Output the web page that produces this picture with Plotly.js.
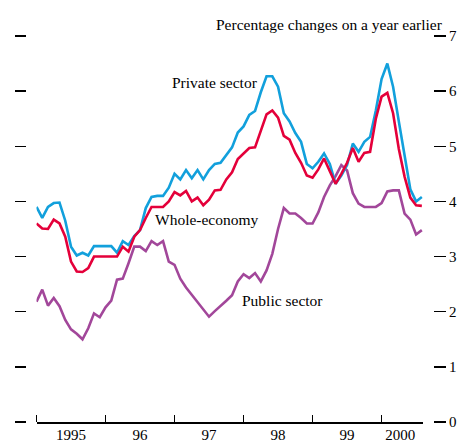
<!DOCTYPE html>
<html>
<head>
<meta charset="utf-8">
<script src="https://cdn.plot.ly/plotly-3.0.1.min.js"></script>
<style>html,body{margin:0;padding:0;background:#fff;}#chart{width:459px;height:442px;}</style>
</head>
<body>
<div id="chart"></div>
<script>
// Monthly data, January 1995 onwards (percentage changes on a year earlier)
var startYear = 1995;
var privateSector = [3.90,3.70,3.90,3.97,3.98,3.65,3.18,3.02,3.07,3.02,
  3.19,3.19,3.19,3.19,3.07,3.28,3.21,3.37,3.48,3.88,
  4.08,4.10,4.10,4.25,4.50,4.40,4.57,4.42,4.57,4.40,
  4.57,4.68,4.70,4.85,4.98,5.25,5.36,5.57,5.64,5.98,
  6.27,6.27,6.08,5.60,5.45,5.24,5.08,4.68,4.60,4.72,
  4.87,4.68,4.32,4.47,4.66,5.05,4.90,5.08,5.17,5.65,
  6.22,6.50,6.08,5.45,4.80,4.22,4.00,4.08];
var wholeEconomy = [3.60,3.51,3.50,3.67,3.60,3.36,2.91,2.73,2.72,2.79,
  3.00,3.00,3.00,3.00,3.00,3.18,3.09,3.36,3.48,3.70,
  3.90,3.90,3.90,4.00,4.17,4.11,4.19,4.00,4.07,3.93,
  4.03,4.20,4.21,4.40,4.53,4.77,4.87,4.97,4.98,5.30,
  5.58,5.65,5.52,5.19,5.12,4.88,4.70,4.47,4.43,4.58,
  4.78,4.55,4.32,4.50,4.70,4.97,4.72,4.88,4.90,5.50,
  5.90,5.97,5.60,4.95,4.45,4.07,3.93,3.92];
var publicSector = [2.18,2.40,2.11,2.25,2.10,1.85,1.68,1.60,1.50,1.70,
  1.97,1.90,2.08,2.20,2.58,2.60,2.88,3.18,3.18,3.10,
  3.28,3.21,3.28,2.91,2.85,2.60,2.44,2.31,2.19,2.06,
  1.91,2.01,2.10,2.20,2.30,2.55,2.68,2.61,2.70,2.55,
  2.75,3.05,3.50,3.88,3.78,3.78,3.70,3.60,3.60,3.80,
  4.08,4.29,4.46,4.66,4.56,4.15,3.96,3.90,3.90,3.90,
  3.97,4.18,4.20,4.20,3.78,3.67,3.40,3.48];
var yearTicks = [1995,1996,1997,1998,1999,2000];
var yearLabels = ['1995','96','97','98','99','2000'];
var yTicks = [0,1,2,3,4,5,6,7];

var months = privateSector.map(function(_, i){ return startYear + i/12; });
var labelPos = yearTicks.map(function(y, i){ return i < yearTicks.length-1 ? y + 0.5 : y + 0.27; });

var FONT = 'Liberation Serif, Times New Roman, serif';
var colBlue = '#12A0DC', colRed = '#E4003A', colPurple = '#A2479A';

var traces = [
  {x: months, y: publicSector, mode:'lines', line:{color:colPurple, width:2.6}, hoverinfo:'skip'},
  {x: months, y: privateSector, mode:'lines', line:{color:colBlue, width:2.6}, hoverinfo:'skip'},
  {x: months, y: wholeEconomy, mode:'lines', line:{color:colRed, width:2.6}, hoverinfo:'skip'},
  {x: [startYear], y: [0], yaxis:'y2', mode:'markers', marker:{opacity:0}, hoverinfo:'skip'}
];

var layout = {
  width: 459, height: 442,
  margin: {l: 26, r: 26, t: 36, b: 20, pad: 0},
  paper_bgcolor: '#fff', plot_bgcolor: '#fff',
  showlegend: false,
  font: {family: FONT, size: 15, color: '#000'},
  xaxis: {
    domain: [0.0258, 0.9754],
    range: [1995, 2000.6],
    showgrid: false, zeroline: false,
    showline: true, linecolor: '#000', linewidth: 1.5,
    tickmode: 'array', tickvals: labelPos, ticktext: yearLabels,
    ticks: '', ticklabelstandoff: -2,
    tickfont: {family: FONT, size: 15, color: '#000'},
    minor: {tickmode: 'array', tickvals: yearTicks, ticks: 'inside', ticklen: 7, tickwidth: 1.5, tickcolor: '#000', showgrid: false},
    automargin: false, fixedrange: true
  },
  yaxis: {
    range: [0, 7], anchor: 'free', position: 1, side: 'right',
    showgrid: false, zeroline: false, showline: false,
    tickmode: 'array', tickvals: yTicks,
    ticks: 'outside', ticklen: 12, tickwidth: 1.3, tickcolor: '#000',
    tickfont: {family: FONT, size: 15, color: '#000'},
    automargin: false, fixedrange: true
  },
  yaxis2: {
    range: [0, 7], overlaying: 'y', anchor: 'free', position: 0, side: 'left',
    showgrid: false, zeroline: false, showline: false,
    tickmode: 'array', tickvals: yTicks, showticklabels: false,
    ticks: 'outside', ticklen: 11, tickwidth: 1.3, tickcolor: '#000',
    automargin: false, fixedrange: true
  },
  annotations: [
    {text: 'Percentage changes on a year earlier', x: 1.0295, y: 1.0285, xref: 'paper', yref: 'paper',
     xanchor: 'right', yanchor: 'middle', showarrow: false, font: {family: FONT, size: 15.5, color: '#000'}},
    {text: 'Private sector', x: 1997.58, y: 6.16, xref: 'x', yref: 'y',
     xanchor: 'center', yanchor: 'middle', showarrow: false, font: {family: FONT, size: 15.5, color: '#000'}},
    {text: 'Whole-economy', x: 1997.475, y: 3.68, xref: 'x', yref: 'y',
     xanchor: 'center', yanchor: 'middle', showarrow: false, font: {family: FONT, size: 15.5, color: '#000'}},
    {text: 'Public sector', x: 1998.57, y: 2.2, xref: 'x', yref: 'y',
     xanchor: 'center', yanchor: 'middle', showarrow: false, font: {family: FONT, size: 15.5, color: '#000'}}
  ]
};

Plotly.newPlot('chart', traces, layout, {displayModeBar: false, staticPlot: true});
</script>
</body>
</html>
